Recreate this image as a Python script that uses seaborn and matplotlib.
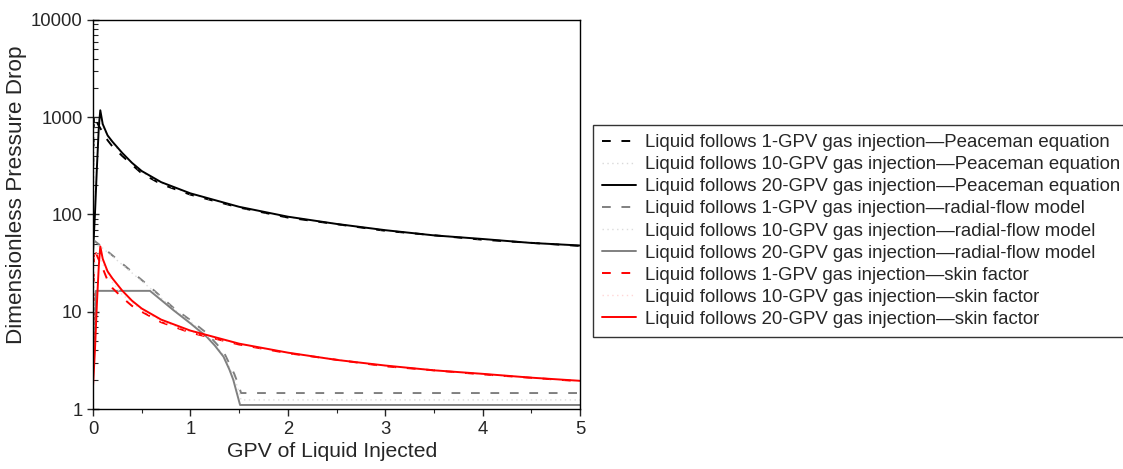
import numpy as np
import pandas as pd
import seaborn as sns
import matplotlib.pyplot as plt
from matplotlib.ticker import FixedLocator, FuncFormatter, LogLocator, NullFormatter

# GPV of liquid injected (x) and dimensionless pressure drop (y)
pea20_x = [0.0, 0.02, 0.04, 0.06, 0.075, 0.1, 0.15, 0.2, 0.3, 0.4, 0.5, 0.7, 1.0, 1.5, 2.0, 2.5, 3.0, 3.5, 4.0, 4.5, 5.0]
pea20_y = [40, 100, 300, 800, 1180, 850, 650, 560, 430, 340, 280, 215, 165, 120, 95, 80, 69, 61, 56, 51, 48]

pea1_x = [0.0, 0.01, 0.05, 0.1, 0.15, 0.2, 0.3, 0.4, 0.5, 0.7, 1.0, 1.5, 2.0, 3.0, 4.0, 5.0]
pea1_y = [200, 1050, 850, 700, 580, 500, 400, 325, 265, 205, 160, 118, 93, 68, 55, 47.5]

pea10_x = [0.0, 0.02, 0.05, 0.1, 0.2, 0.3, 0.5, 0.7, 1.0, 1.5, 2.0, 3.0, 4.0, 5.0]
pea10_y = [60, 900, 1000, 780, 540, 420, 272, 210, 162, 119, 94, 68.5, 55.5, 47.8]

rad1_x = [0.0, 0.1, 0.6, 0.825, 1.0, 1.17, 1.34, 1.45, 1.5, 1.52, 5.0]
rad1_y = [55, 46, 17.5, 11.0, 8.2, 6.0, 3.9, 2.3, 1.7, 1.46, 1.46]

rad10_x = [0.0, 0.1, 0.6, 0.825, 1.0, 1.17, 1.34, 1.45, 1.5, 1.52, 5.0]
rad10_y = [50, 45, 17, 10.7, 7.9, 5.7, 3.6, 2.1, 1.5, 1.24, 1.24]

rad20_x = [0.0, 0.03, 0.585, 0.7, 0.825, 1.0, 1.17, 1.25, 1.34, 1.4, 1.44, 1.51, 5.0]
rad20_y = [3, 16.4, 16.4, 13.2, 10.4, 7.6, 5.5, 4.5, 3.45, 2.55, 2.0, 1.1, 1.1]

skin1_x = [0.0, 0.01, 0.05, 0.1, 0.15, 0.2, 0.3, 0.4, 0.5, 0.7, 1.0, 1.5, 2.0, 3.0, 4.0, 5.0]
skin1_y = [2, 45, 36, 28, 21, 17.5, 14, 11.5, 10, 7.8, 6.1, 4.6, 3.75, 2.75, 2.27, 1.93]

skin10_x = [0.0, 0.02, 0.05, 0.1, 0.2, 0.3, 0.5, 0.7, 1.0, 1.5, 2.0, 3.0, 4.0, 5.0]
skin10_y = [2.5, 38, 40, 31, 20, 15, 10.4, 8.0, 6.2, 4.65, 3.78, 2.78, 2.28, 1.94]

skin20_x = [0.0, 0.02, 0.04, 0.06, 0.075, 0.1, 0.15, 0.2, 0.3, 0.4, 0.5, 0.7, 1.0, 1.5, 2.0, 2.5, 3.0, 3.5, 4.0, 4.5, 5.0]
skin20_y = [1.7, 4, 12, 30, 47, 35, 26, 22, 16.5, 13, 10.8, 8.3, 6.4, 4.7, 3.8, 3.2, 2.8, 2.5, 2.3, 2.1, 1.95]

labels = [
    "Liquid follows 1-GPV gas injection\u2014Peaceman equation",
    "Liquid follows 10-GPV gas injection\u2014Peaceman equation",
    "Liquid follows 20-GPV gas injection\u2014Peaceman equation",
    "Liquid follows 1-GPV gas injection\u2014radial-flow model",
    "Liquid follows 10-GPV gas injection\u2014radial-flow model",
    "Liquid follows 20-GPV gas injection\u2014radial-flow model",
    "Liquid follows 1-GPV gas injection\u2014skin factor",
    "Liquid follows 10-GPV gas injection\u2014skin factor",
    "Liquid follows 20-GPV gas injection\u2014skin factor",
]

dash = (0, (4.5, 5.5))
dot = (0, (1, 2.5))
series = [
    (pea1_x, pea1_y, "black", dash),
    (pea10_x, pea10_y, "#d9d9d9", dot),
    (pea20_x, pea20_y, "black", "-"),
    (rad1_x, rad1_y, "#808080", dash),
    (rad10_x, rad10_y, "#dcdcdc", dot),
    (rad20_x, rad20_y, "#808080", "-"),
    (skin1_x, skin1_y, "red", dash),
    (skin10_x, skin10_y, "#ffd6d6", dot),
    (skin20_x, skin20_y, "red", "-"),
]

sns.set_style("ticks")
plt.rcParams["font.family"] = ["Liberation Sans", "DejaVu Sans"]

fig = plt.figure(figsize=(11.23, 4.69), dpi=100)
ax = fig.add_axes([0.0828, 0.1279, 0.4337, 0.8295])

for (x, y, c, ls), lab in zip(series, labels):
    df = pd.DataFrame({"x": x, "y": y})
    lw = 1.0 if ls is dot else 1.4
    sns.lineplot(data=df, x="x", y="y", color=c, linestyle=ls, linewidth=lw,
                 label=lab, ax=ax, sort=False, estimator=None)

ax.set_yscale("log")
ax.set_ylim(1, 10000)
ax.set_xlim(0, 5)
ax.yaxis.set_major_formatter(FuncFormatter(lambda v, p: f"{int(round(v))}"))
ax.yaxis.set_minor_locator(LogLocator(base=10, subs=np.arange(2, 10)))
ax.yaxis.set_minor_formatter(NullFormatter())
ax.xaxis.set_major_locator(FixedLocator([0, 1, 2, 3, 4, 5]))
ax.xaxis.set_minor_locator(FixedLocator([0.5, 1.5, 2.5, 3.5, 4.5]))

ax.tick_params(axis="y", which="major", direction="inout", length=8, width=1, labelsize=13.3)
ax.tick_params(axis="y", which="minor", direction="in", length=3.5, width=0.8)
ax.tick_params(axis="x", which="major", direction="out", length=5, width=1, labelsize=13.3)
ax.tick_params(axis="x", which="minor", direction="out", length=3, width=0.8)

for s in ax.spines.values():
    s.set_linewidth(1.0)
    s.set_color("black")

ax.set_xlabel("GPV of Liquid Injected", fontsize=15.2)
ax.set_ylabel("Dimensionless Pressure Drop", fontsize=16.2)
ax.xaxis.set_label_coords(0.49, -0.085)
ax.yaxis.set_label_coords(-0.136, 0.55)

leg = ax.legend(loc="upper left", bbox_to_anchor=(593 / 1123, 1 - 125 / 469),
                bbox_transform=fig.transFigure, borderaxespad=0, fontsize=13.4,
                frameon=True, fancybox=False, edgecolor="black", handlelength=1.8,
                labelspacing=0.27, borderpad=0.5, handletextpad=0.5)
leg.get_frame().set_linewidth(1.0)

fig.savefig("out.png", dpi=100)
